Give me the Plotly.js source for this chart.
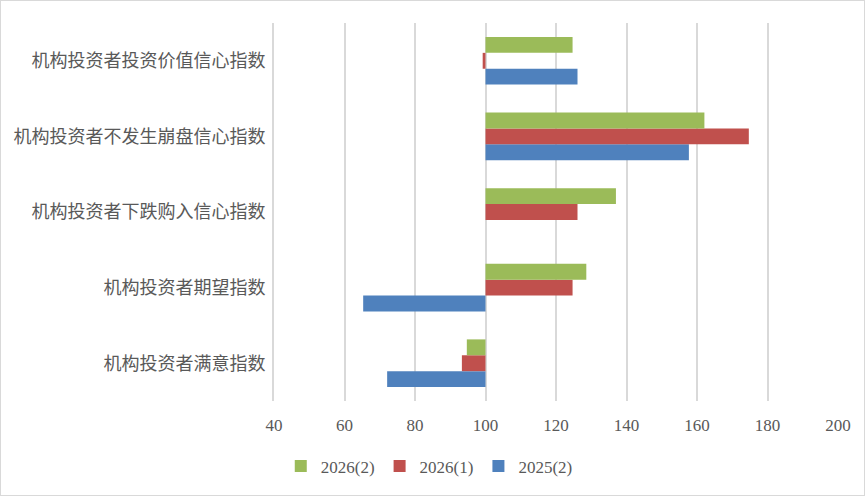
<!DOCTYPE html>
<html>
<head>
<meta charset="utf-8">
<script src="https://cdn.plot.ly/plotly-3.0.1.min.js"></script>
<style>
html,body{margin:0;padding:0;background:#fff;}
#chart{width:863px;height:494px;border:1px solid #d9d9d9;}
</style>
</head>
<body>
<div id="chart"></div>
<script>
const categories = ["机构投资者满意指数","机构投资者期望指数","机构投资者下跌购入信心指数","机构投资者不发生崩盘信心指数","机构投资者投资价值信心指数"];
const series2025_2 = [72.1, 65.3, 100, 157.7, 126.1];
const series2026_1 = [93.3, 124.7, 126.1, 174.7, 99.2];
const series2026_2 = [94.7, 128.6, 137.0, 162.1, 124.7];
const xTicks = [40, 60, 80, 100, 120, 140, 160, 180, 200];
const baseline = 100;

function mk(name, vals, color){
  return {
    type: 'bar', orientation: 'h', name: name,
    y: categories, x: vals.map(v => v - baseline), base: baseline,
    marker: {color: color}, hoverinfo: 'skip'
  };
}
const data = [
  mk('2025(2)', series2025_2, '#4f81bd'),
  mk('2026(1)', series2026_1, '#c0504d'),
  mk('2026(2)', series2026_2, '#9bbb59')
];
const layout = {
  width: 863, height: 494,
  margin: {l: 273, r: 26, t: 22, b: 93},
  paper_bgcolor: '#fff', plot_bgcolor: '#fff',
  barmode: 'group', bargap: 0.37, bargroupgap: 0,
  showlegend: true,
  legend: {orientation: 'h', traceorder: 'reversed', x: 0.012, xanchor: 'left', y: -0.17, yanchor: 'middle',
    font: {family: 'Liberation Serif, serif', size: 17, color: '#595959'}, itemwidth: 30},
  xaxis: {range: [40, 200], tickvals: xTicks, ticktext: xTicks.map(String),
    showgrid: true, gridcolor: '#d9d9d9', gridwidth: 2, zeroline: false,
    showline: false, ticks: '', ticklabelstandoff: 12,
    tickfont: {family: 'Liberation Serif, serif', size: 17, color: '#595959'}},
  yaxis: {type: 'category', categoryorder: 'array', categoryarray: categories,
    showgrid: false, zeroline: false, showline: true, linecolor: '#d9d9d9', linewidth: 2,
    ticks: '', ticklabelstandoff: 3,
    tickfont: {family: 'Noto Sans CJK SC, sans-serif', size: 18, color: '#595959'}}
};
Plotly.newPlot('chart', data, layout, {displayModeBar: false, staticPlot: true});
</script>
</body>
</html>
